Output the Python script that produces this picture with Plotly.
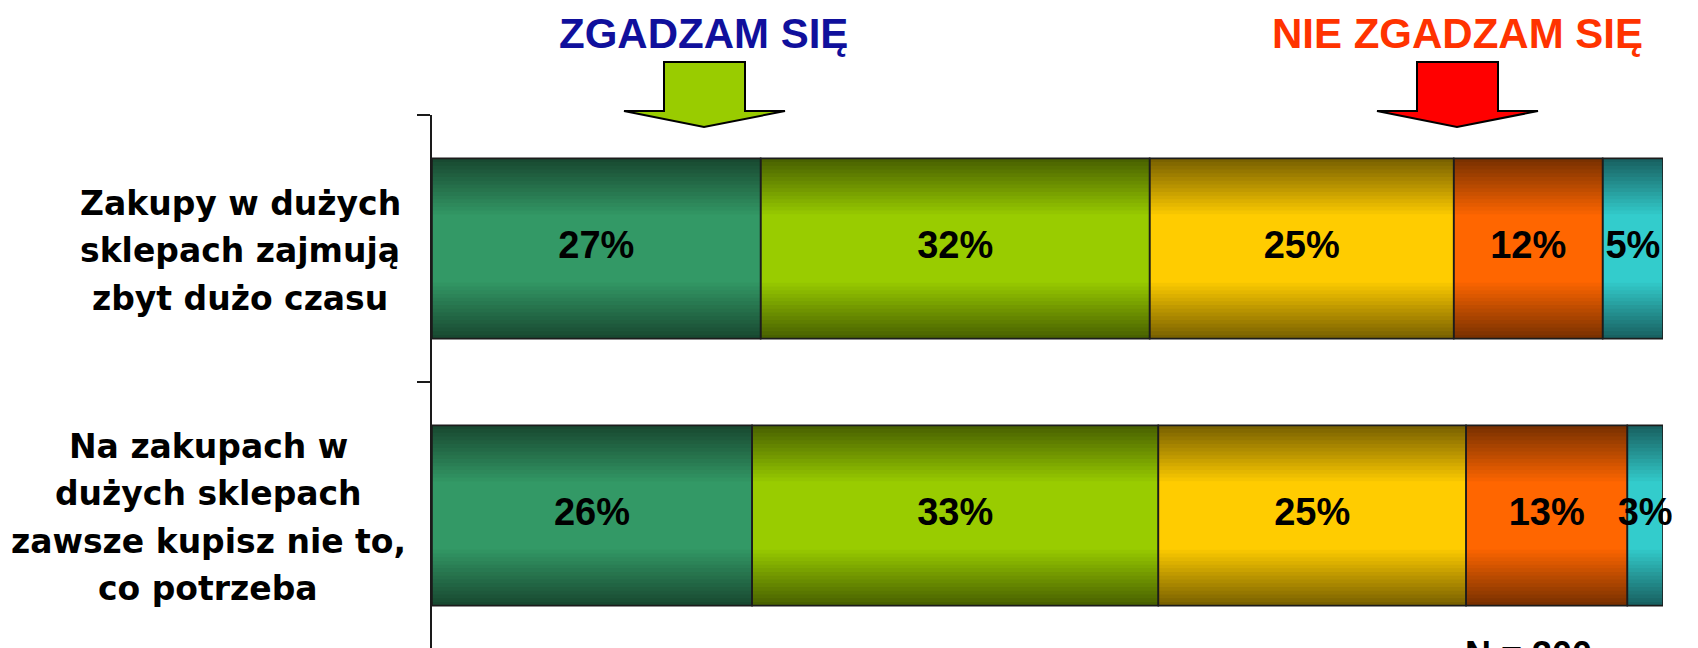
import plotly.graph_objects as go

# ---------------- data ----------------
CATEGORIES = [
    "Zakupy w dużych sklepach zajmują zbyt dużo czasu",
    "Na zakupach w dużych sklepach zawsze kupisz nie to, co potrzeba",
]
LABEL_LINES = [
    ["Zakupy w dużych", "sklepach zajmują", "zbyt dużo czasu"],
    ["Na zakupach w", "dużych sklepach", "zawsze kupisz nie to,", "co potrzeba"],
]
SERIES_1 = [26.7, 26.0]
SERIES_2 = [31.6, 33.0]
SERIES_3 = [24.7, 25.0]
SERIES_4 = [12.1, 13.1]
SERIES_5 = [4.9, 2.9]
SERIES = [SERIES_1, SERIES_2, SERIES_3, SERIES_4, SERIES_5]
AGREE_TITLE = "ZGADZAM SIĘ"
DISAGREE_TITLE = "NIE ZGADZAM SIĘ"
SAMPLE_NOTE = "N = 300"

# ---------------- style ----------------
CENTER_COLORS = [(0x33, 0x99, 0x66), (0x99, 0xCC, 0x00), (0xFF, 0xCC, 0x00),
                 (0xFF, 0x66, 0x00), (0x33, 0xCC, 0xCC)]
EDGE_FACTOR = 0.48
BAR_W = 0.675
N_LAYERS = 16

OFF = 8  # page body margin
W, H = 1698, 648
ML, MR, MT, MB = 424, 43, 107, 7
PW, PH = W - ML - MR, H - MT - MB


def px(x, y):
    """page pixel -> paper coords"""
    return (x - OFF - ML) / PW, (H - MB - (y - OFF)) / PH


def mix(c, t):
    e = [v * EDGE_FACTOR for v in c]
    r = [e[i] + (c[i] - e[i]) * t for i in range(3)]
    return "rgb(%d,%d,%d)" % tuple(round(v) for v in r)


fig = go.Figure()

bases = []
acc = [0.0] * len(CATEGORIES)
for s in SERIES:
    bases.append(list(acc))
    acc = [a + v for a, v in zip(acc, s)]

for si, s in enumerate(SERIES):
    for k in range(N_LAYERS):
        t = k / (N_LAYERS - 1)
        fig.add_trace(go.Bar(
            y=CATEGORIES, x=s, base=bases[si], orientation="h",
            width=BAR_W * (1 - 0.62 * t),
            marker=dict(color=mix(CENTER_COLORS[si], t), line=dict(width=0)),
            hoverinfo="skip", showlegend=False))

for si, s in enumerate(SERIES):
    fig.add_trace(go.Bar(
        y=CATEGORIES, x=s, base=bases[si], orientation="h", width=BAR_W,
        marker=dict(color="rgba(0,0,0,0)", line=dict(color="#1c1c1c", width=1.6)),
        showlegend=False, hoverinfo="skip"))

for si, s in enumerate(SERIES):
    fig.add_trace(go.Scatter(
        y=CATEGORIES, x=[b + v / 2 for b, v in zip(bases[si], s)],
        mode="text", text=["%d%%" % round(v) for v in s],
        textposition="middle center", cliponaxis=False,
        textfont=dict(family="Liberation Sans, Arial", size=38, color="black", weight="bold"),
        showlegend=False, hoverinfo="skip"))

annotations = []
LABEL_X = [240, 208]
for i, lines in enumerate(LABEL_LINES):
    n = len(lines)
    for j, line in enumerate(lines):
        off = 2 + (j - (n - 1) / 2) * 47.5
        annotations.append(dict(
            xref="paper", yref="y", x=px(LABEL_X[i], 0)[0], y=CATEGORIES[i],
            yshift=-off, xanchor="center", yanchor="middle", showarrow=False,
            text=line,
            font=dict(family="DejaVu Sans", size=33, color="black", weight="bold")))

tx, ty = px(703, 34)
annotations.append(dict(xref="paper", yref="paper", x=tx, y=ty, xanchor="center",
                        yanchor="middle", showarrow=False, text=AGREE_TITLE,
                        font=dict(family="Liberation Sans, Arial", size=42,
                                  color="#10109C", weight="bold")))
tx, ty = px(1457, 34)
annotations.append(dict(xref="paper", yref="paper", x=tx, y=ty, xanchor="center",
                        yanchor="middle", showarrow=False, text=DISAGREE_TITLE,
                        font=dict(family="Liberation Sans, Arial", size=42,
                                  color="#FF3300", weight="bold")))
tx, ty = px(1528, 632)
annotations.append(dict(xref="paper", yref="paper", x=tx, y=ty, xanchor="center",
                        yanchor="top", showarrow=False, text=SAMPLE_NOTE,
                        font=dict(family="Liberation Sans, Arial", size=36,
                                  color="black", weight="bold")))


def arrow_path(cx, color):
    pts = [(cx - 40, 62), (cx + 41, 62), (cx + 41, 111), (cx + 81, 111),
           (cx, 127), (cx - 80, 111), (cx - 40, 111)]
    p = [px(a, b) for a, b in pts]
    d = "M " + " L ".join("%f,%f" % q for q in p) + " Z"
    return dict(type="path", xref="paper", yref="paper", path=d,
                fillcolor=color, line=dict(color="black", width=2))


shapes = [arrow_path(704, "#99CC00"), arrow_path(1457, "#FF0000")]

fig.update_layout(
    width=W, height=H, barmode="overlay",
    margin=dict(l=ML, r=MR, t=MT, b=MB, pad=0),
    paper_bgcolor="white", plot_bgcolor="white",
    xaxis=dict(range=[0, 100], visible=False),
    yaxis=dict(type="category", categoryarray=CATEGORIES, range=[1.5, -0.5],
               showline=True, linecolor="#1a1a1a", linewidth=2,
               ticks="outside", tickson="boundaries", ticklen=13, tickwidth=2,
               tickcolor="#1a1a1a", showticklabels=False, showgrid=False,
               zeroline=False),
    annotations=annotations, shapes=shapes, showlegend=False,
)

fig.write_html("out.html")
